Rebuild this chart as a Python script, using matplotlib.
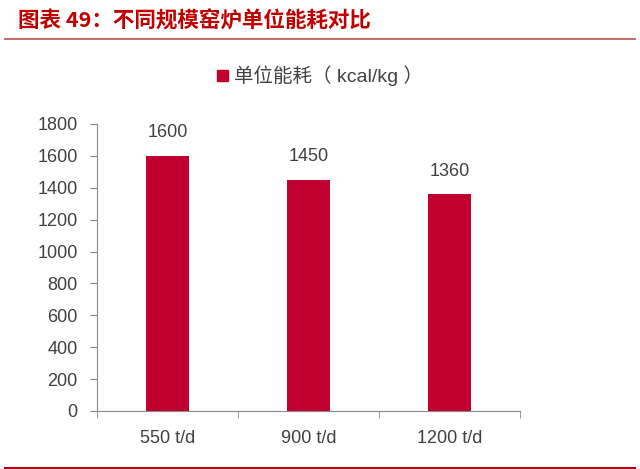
import matplotlib.pyplot as plt
from matplotlib.lines import Line2D
from matplotlib.patches import Patch

plt.rcParams['font.family'] = ['Liberation Sans', 'Noto Sans CJK SC', 'DejaVu Sans']

# data
categories = ['550 t/d', '900 t/d', '1200 t/d']
values = [1600, 1450, 1360]
series_name = '单位能耗（ kcal/kg ）'
title = '图表 49：不同规模窑炉单位能耗对比'

bar_color = '#C0002F'
axis_color = '#898989'
text_color = '#404040'

fig = plt.figure(figsize=(6.4, 4.69), dpi=100)
ax = fig.add_axes([0.1516, 0.1237, 0.661, 0.612])

x = range(len(categories))
bars = ax.bar(x, values, width=0.31, color=bar_color, label=series_name)
for xi, v in zip(x, values):
    ax.text(xi, v + 90, str(v), ha='center', va='bottom', fontsize=13, color=text_color)

ax.set_xlim(-0.5, len(categories) - 0.5)
ax.set_ylim(0, 1800)
ax.set_yticks(range(0, 1801, 200))
ax.set_xticks(x)
ax.set_xticklabels(categories)
ax.set_xticks([i - 0.5 for i in range(len(categories) + 1)], minor=True)
ax.tick_params(axis='x', which='major', length=0, pad=14, labelsize=13, labelcolor=text_color)
ax.tick_params(axis='x', which='minor', length=5, color=axis_color, direction='out')
ax.tick_params(axis='y', length=5, color=axis_color, labelsize=13, labelcolor=text_color, pad=9)

for s in ['top', 'right']:
    ax.spines[s].set_visible(False)
for s in ['left', 'bottom']:
    ax.spines[s].set_color(axis_color)

fig.legend(handles=[Patch(color=bar_color)], labels=[series_name],
           loc='center', bbox_to_anchor=(0.5, 1 - 76 / 469), frameon=False,
           fontsize=14, handlelength=0.55, handleheight=0.55, handletextpad=0.3,
           labelcolor=text_color)

fig.text(18 / 640, 1 - 21 / 469, title, fontsize=15.5, fontweight='bold',
         color='#C00000', ha='left', va='center', style='italic',
         family=['Noto Sans CJK SC', 'DejaVu Sans'])

fig.add_artist(Line2D([5 / 640, 635 / 640], [1 - 39 / 469] * 2, color='#C0504D', lw=1.2))
fig.add_artist(Line2D([5 / 640, 635 / 640], [1 - 467.5 / 469] * 2, color='#A01010', lw=1.5))

fig.savefig('out.png', dpi=100)
